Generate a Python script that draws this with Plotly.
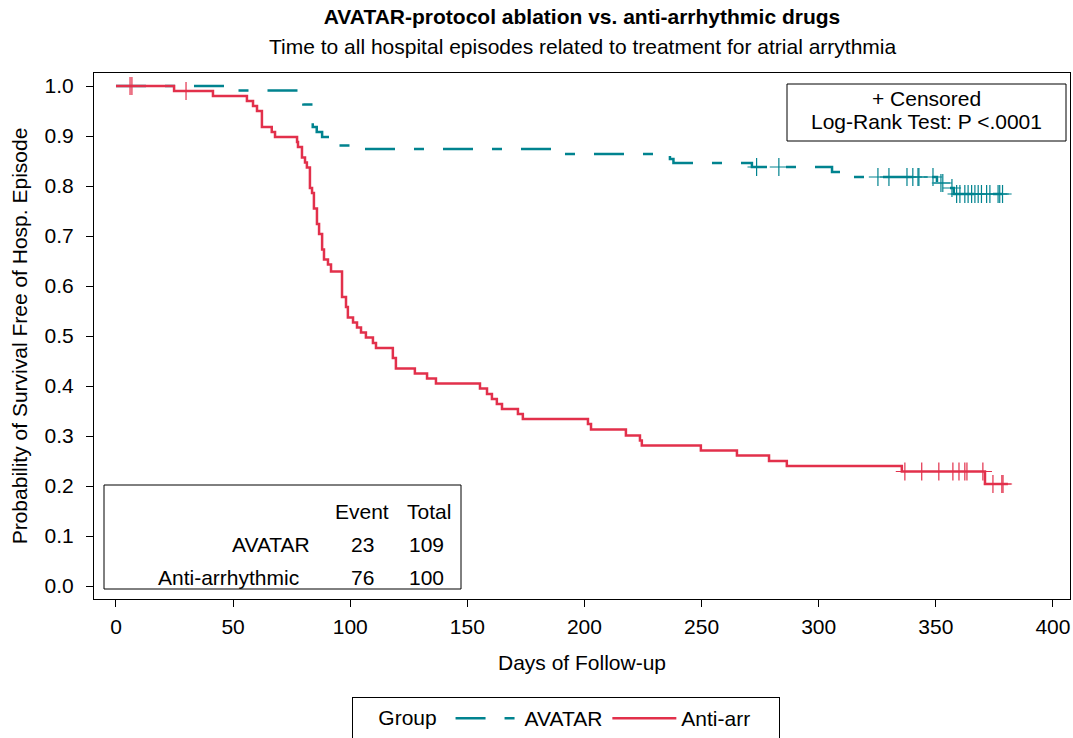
import numpy as np
import plotly.graph_objects as go

# ---------------- data ----------------
group_names = ["AVATAR", "Anti-arr"]
table_labels = ["AVATAR", "Anti-arrhythmic"]
events = [23, 76]
totals = [109, 100]

# AVATAR Kaplan-Meier steps (day, survival after step)
av_days = [0, 51, 80, 84, 85.7, 88, 92, 101, 187, 236.5, 238, 271.5, 305.7, 313,
           350.5, 354, 357.7, 381.2]
av_surv = [1.0, 0.991, 0.963, 0.918, 0.908, 0.898, 0.881, 0.874, 0.864, 0.854, 0.846,
           0.838, 0.828, 0.818, 0.806, 0.796, 0.784, 0.784]
av_censor = [273.5, 283, 325.3, 330, 337.7, 340.2, 342.4, 342.8, 348.8, 352.2, 353,
             356.9, 358.9, 360.3, 362.4, 363.8, 365.3, 366.7, 368.1, 369.5, 371.7,
             373.1, 376.6, 377.3, 378.5]

# Anti-arrhythmic Kaplan-Meier steps
aa_days = [0, 24.8, 41.4, 55.9, 58.5, 60.2, 62.3, 66.5, 67.9, 77.3, 77.7, 79.4, 80.7,
           81.5, 82.8, 83.7, 84.5, 85.8, 86.7, 88.0, 88.8, 90.5, 91.8, 96.5, 98.2, 99.0,
           101.2, 102.9, 104.6, 106.7, 109.7, 111.0, 118.2, 119.5, 127.6, 132.8, 136.6,
           155.4, 158.4, 160.5, 162.6, 164.8, 171.6, 173.7, 201.5, 202.8, 217.7, 223.7,
           224.5, 249.7, 265.1, 278.8, 286.4, 335.5, 371.0, 380.8]
aa_surv = [1.0, 0.99, 0.98, 0.97, 0.96, 0.95, 0.918, 0.908, 0.898, 0.888, 0.878, 0.857,
           0.847, 0.837, 0.796, 0.786, 0.755, 0.724, 0.704, 0.673, 0.653, 0.643, 0.629,
           0.578, 0.558, 0.537, 0.527, 0.517, 0.507, 0.497, 0.486, 0.476, 0.456, 0.435,
           0.425, 0.415, 0.405, 0.395, 0.384, 0.374, 0.364, 0.354, 0.344, 0.334, 0.324,
           0.313, 0.301, 0.291, 0.281, 0.271, 0.261, 0.25, 0.24, 0.229, 0.204, 0.204]
aa_censor = [6.0, 6.8, 29.9, 336.8, 344.0, 351.3, 357.3, 359.9, 362.4, 363.3, 370.1,
             374.4, 378.2, 378.7]

x_ticks = [0, 50, 100, 150, 200, 250, 300, 350, 400]
y_ticks = [0.0, 0.1, 0.2, 0.3, 0.4, 0.5, 0.6, 0.7, 0.8, 0.9, 1.0]

title_text = "AVATAR-protocol ablation vs. anti-arrhythmic drugs"
subtitle_text = "Time to all hospital episodes related to treatment for atrial arrythmia"
inset_lines = ["+ Censored", "Log-Rank Test: P <.0001"]
legend_title = "Group"

# ---------------- styling ----------------
FONT = "Liberation Sans, Arial, sans-serif"
FS = 21
TEAL = "#00838f"
RED = "#e2304b"
W, H = 1073, 738
L, R, T, B = 94, 3, 73, 139
NB = "&nbsp;"


def px_x(x):
    return (x - L) / (W - L - R)


def px_y(y):
    return (H - B - y) / (H - T - B)


def surv_at(days, surv, t):
    i = int(np.searchsorted(np.array(days), t, side="right")) - 1
    return surv[i]


fig = go.Figure()

fig.add_trace(go.Scatter(
    x=av_days, y=av_surv, mode="lines", line_shape="hv", name=group_names[0],
    line=dict(color=TEAL, width=2.5, dash="30px,19px,10px,19px")))
fig.add_trace(go.Scatter(
    x=aa_days, y=aa_surv, mode="lines", line_shape="hv", name=group_names[1] + NB * 4,
    line=dict(color=RED, width=2.5)))

fig.add_trace(go.Scatter(
    x=av_censor, y=[surv_at(av_days, av_surv, t) for t in av_censor], mode="markers",
    showlegend=False, hoverinfo="skip",
    marker=dict(symbol="cross-thin", size=13, line=dict(color=TEAL, width=1.2))))
fig.add_trace(go.Scatter(
    x=aa_censor, y=[surv_at(aa_days, aa_surv, t) for t in aa_censor], mode="markers",
    showlegend=False, hoverinfo="skip",
    marker=dict(symbol="cross-thin", size=13, line=dict(color=RED, width=1.2))))

axis_common = dict(showline=True, linecolor="black", linewidth=1, mirror=True,
                   ticks="outside", ticklen=7, tickcolor="black", tickwidth=1,
                   showgrid=False, zeroline=False,
                   tickfont=dict(family=FONT, size=FS, color="black"))

fig.update_xaxes(range=[-9.39, 407.3], tickvals=x_ticks, ticklabelstandoff=2,
                 title=dict(text="Days of Follow-up", font=dict(family=FONT, size=FS, color="black"),
                            standoff=18),
                 **axis_common)
fig.update_yaxes(range=[-0.026, 1.026], tickvals=y_ticks, tickformat=".1f",
                 ticklabelstandoff=8,
                 title=dict(text="Probability of Survival Free of Hosp. Episode",
                            font=dict(family=FONT, size=FS, color="black"), standoff=11),
                 **axis_common)

shapes = []
annotations = []

# inset box (top right)
shapes.append(dict(type="rect", xref="paper", yref="paper",
                   x0=px_x(787), x1=px_x(1066), y0=px_y(141), y1=px_y(84),
                   line=dict(color="black", width=1), fillcolor="white", layer="above"))
for txt, yy in zip(inset_lines, [98, 122]):
    annotations.append(dict(text=txt, xref="paper", yref="paper", x=px_x(926.5), y=px_y(yy),
                            xanchor="center", yanchor="middle", showarrow=False,
                            font=dict(family=FONT, size=FS, color="black")))

# event table box (bottom left)
shapes.append(dict(type="rect", xref="paper", yref="paper",
                   x0=px_x(104), x1=px_x(461), y0=px_y(589), y1=px_y(485),
                   line=dict(color="black", width=1), fillcolor="white", layer="above"))
for txt, xx in zip(["Event", "Total"], [361.5, 429]):
    annotations.append(dict(text=txt, xref="paper", yref="paper", x=px_x(xx), y=px_y(511),
                            xanchor="center", yanchor="middle", showarrow=False,
                            font=dict(family=FONT, size=FS, color="black")))
for lab, ev, tot, yy, xr in zip(table_labels, events, totals, [544, 577], [312, 301]):
    annotations.append(dict(text=lab, xref="paper", yref="paper", x=px_x(xr), y=px_y(yy),
                            xanchor="right", yanchor="middle", showarrow=False,
                            font=dict(family=FONT, size=FS, color="black")))
    annotations.append(dict(text=str(ev), xref="paper", yref="paper", x=px_x(362.5), y=px_y(yy),
                            xanchor="center", yanchor="middle", showarrow=False,
                            font=dict(family=FONT, size=FS, color="black")))
    annotations.append(dict(text=str(tot), xref="paper", yref="paper", x=px_x(426.5), y=px_y(yy),
                            xanchor="center", yanchor="middle", showarrow=False,
                            font=dict(family=FONT, size=FS, color="black")))

# subtitle
annotations.append(dict(text=subtitle_text, xref="paper", yref="paper", x=0.5, y=px_y(47),
                        xanchor="center", yanchor="middle", showarrow=False,
                        font=dict(family=FONT, size=FS, color="black")))

fig.update_layout(
    width=W, height=H,
    margin=dict(l=L, r=R, t=T, b=B, autoexpand=False),
    paper_bgcolor="white", plot_bgcolor="white",
    title=dict(text="<b>" + title_text + "</b>", x=0.5, xref="paper",
               y=1 - 17 / H, yref="container", yanchor="middle", xanchor="center",
               font=dict(family=FONT, size=FS, color="black")),
    legend=dict(orientation="h", xref="container", yref="container",
                x=352 / W, xanchor="left", y=1 - 697 / H, yanchor="top",
                bordercolor="black", borderwidth=1, bgcolor="white",
                itemwidth=64,
                title=dict(text=NB * 4 + legend_title + " ", side="left",
                           font=dict(family=FONT, size=FS, color="black")),
                font=dict(family=FONT, size=FS, color="black")),
    shapes=shapes, annotations=annotations,
    showlegend=True,
)

fig.write_html("out.html", config={"displayModeBar": False},
               post_script="document.body.style.margin='0px';document.body.style.overflow='hidden';")
